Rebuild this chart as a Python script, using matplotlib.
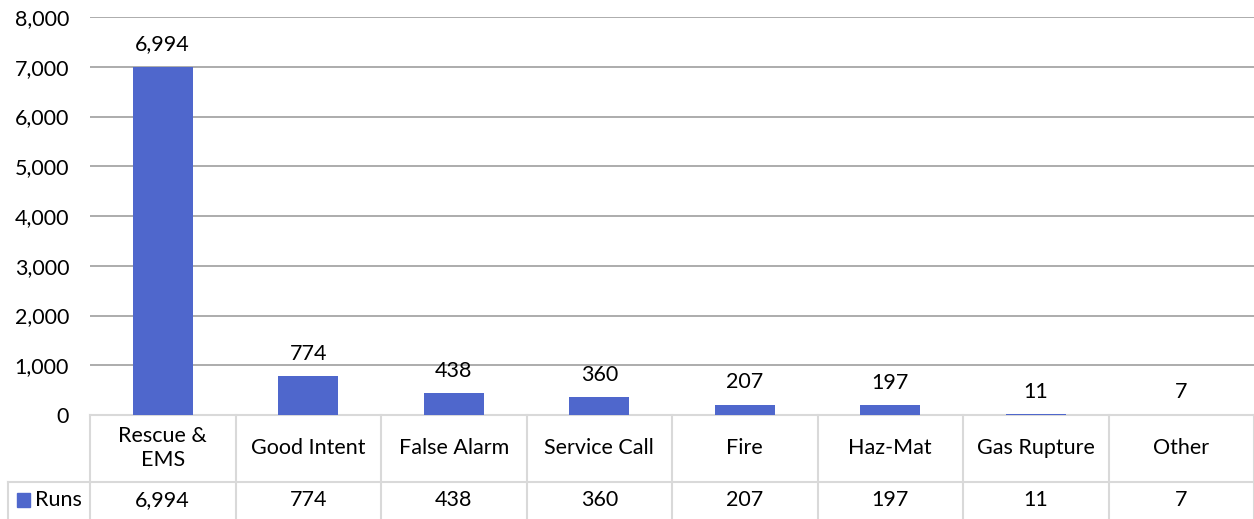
import matplotlib.pyplot as plt
from matplotlib.transforms import blended_transform_factory
from matplotlib.patches import Rectangle

categories = ["Rescue &\nEMS", "Good Intent", "False Alarm", "Service Call",
              "Fire", "Haz-Mat", "Gas Rupture", "Other"]
runs = [6994, 774, 438, 360, 207, 197, 11, 7]
series_name = "Runs"
y_ticks = [0, 1000, 2000, 3000, 4000, 5000, 6000, 7000, 8000]

bar_color = "#4F67CC"
grid_color = "#A6A6A6"
table_color = "#D9D9D9"
fs = 15.5

plt.rcParams['font.family'] = ['Lato', 'DejaVu Sans']

W, H = 1254, 519
fig = plt.figure(figsize=(W / 100, H / 100), dpi=100)
ax = fig.add_axes([90 / W, (H - 415) / H, (W - 90) / W, (415 - 17) / H])

x = list(range(len(categories)))
ax.bar(x, runs, width=0.41, color=bar_color, zorder=3)
ax.set_xlim(-0.5, len(categories) - 0.5)
ax.set_ylim(0, 8000)
ax.set_yticks(y_ticks)
ax.set_yticklabels([f"{v:,}" for v in y_ticks], fontsize=fs)
ax.tick_params(axis='y', length=0, pad=15)
ax.set_xticks([])
ax.grid(axis='y', color=grid_color, linewidth=1.3, zorder=0)
for s in ax.spines.values():
    s.set_visible(False)

for xi, v in zip(x, runs):
    ax.annotate(f"{v:,}", (xi, v), xytext=(0, 9), textcoords='offset points',
                ha='center', va='bottom', fontsize=fs)

# data table under the plot
tr = blended_transform_factory(ax.transData, ax.transAxes)
px = 1 / (415 - 17)
y_top = 0
y_mid = -(482 - 415) * px
y_bot = -(519 - 415) * px - 0.02
x_left = -0.5 + (8 - 90) / 145.5

ax.plot([-0.5, len(categories) - 0.5], [y_top, y_top], transform=tr,
        color=table_color, lw=1.5, clip_on=False)
ax.plot([x_left, len(categories) - 0.5], [y_mid, y_mid], transform=tr,
        color=table_color, lw=1.5, clip_on=False)
ax.plot([x_left, x_left], [y_mid, y_bot], transform=tr,
        color=table_color, lw=1.5, clip_on=False)
for k in range(len(categories) + 1):
    ax.plot([k - 0.5, k - 0.5], [y_top, y_bot], transform=tr,
            color=table_color, lw=1.5, clip_on=False)

for xi, c, v in zip(x, categories, runs):
    ax.text(xi, (y_top + y_mid) / 2, c, transform=tr, ha='center', va='center',
            fontsize=fs, linespacing=1.25)
    ax.text(xi, -(500 - 415) * px, f"{v:,}", transform=tr, ha='center',
            va='center', fontsize=fs)

# legend key in the row header
ax.add_patch(Rectangle((-0.5 + (17 - 90) / 145.5, -(507 - 415) * px),
                       13 / 145.5, 14 * px, transform=tr, color=bar_color,
                       clip_on=False))
ax.text(-0.5 + (35 - 90) / 145.5, -(500 - 415) * px, series_name,
        transform=tr, ha='left', va='center', fontsize=fs)

fig.savefig("out.png", dpi=100)
